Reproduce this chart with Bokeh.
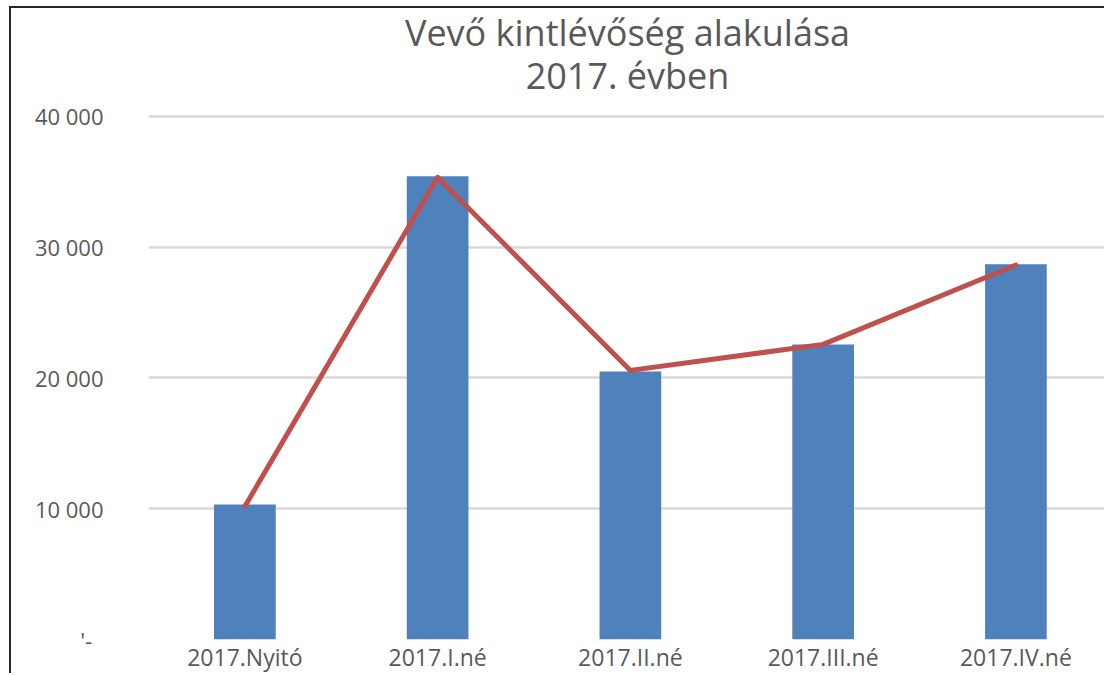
from bokeh.plotting import figure
from bokeh.models import Range1d, FixedTicker, Title, ColumnDataSource
from bokeh.embed import file_html
from bokeh.resources import INLINE

categories = ["2017.Nyitó", "2017.I.né", "2017.II.né", "2017.III.né", "2017.IV.né"]
bar_values = [10330, 35420, 20500, 22570, 28690]
line_values = [10180, 35350, 20580, 22570, 28640]
y_ticks = [0, 10000, 20000, 30000, 40000]
y_tick_labels = ["'-\u00a0\u00a0", "10 000", "20 000", "30 000", "40 000"]
title_lines = ["Vevő kintlévőség alakulása", "2017. évben"]

FONT = "Open Sans"
TXT = "#595959"

xs = list(range(len(categories)))
src = ColumnDataSource(dict(x=xs, bar=bar_values, line=line_values))

p = figure(width=1095, height=667, output_backend="svg", toolbar_location=None,
           x_range=Range1d(-0.5, 4.47), y_range=Range1d(0, 40150),
           min_border_left=137, min_border_right=0, min_border_top=0, min_border_bottom=0)
p.margin = (6, 0, 0, 9)
p.styles = {"border-top": "2px solid #262626", "border-left": "2px solid #262626"}
p.outline_line_color = None
p.background_fill_color = "white"
p.border_fill_color = "white"

# spacer between plot area and the title lines
p.add_layout(Title(text=" ", text_font=FONT, text_font_size="14px", standoff=0), "above")
p.add_layout(Title(text=title_lines[1], align="center", text_font=FONT, text_font_size="36px",
                   text_color=TXT, text_font_style="normal", standoff=-12, offset=0), "above")
p.add_layout(Title(text=title_lines[0], align="center", text_font=FONT, text_font_size="36px",
                   text_color=TXT, text_font_style="normal", standoff=-5, offset=0), "above")

p.vbar(x="x", top="bar", width=0.32, bottom=0, source=src, color="#4f81bd", line_color=None)
p.line(x="x", y="line", source=src, line_color="#c0504d", line_width=5, line_cap="round", line_join="round")

p.yaxis.ticker = FixedTicker(ticks=y_ticks)
p.yaxis.major_label_overrides = {t: l for t, l in zip(y_ticks, y_tick_labels)}
p.xaxis.ticker = FixedTicker(ticks=xs)
p.xaxis.major_label_overrides = {i: c for i, c in zip(xs, categories)}

for ax in (p.xaxis, p.yaxis):
    ax.axis_line_color = None
    ax.major_tick_line_color = None
    ax.minor_tick_line_color = None
    ax.major_tick_in = 0
    ax.major_tick_out = 0
    ax.major_label_text_font = FONT
    ax.major_label_text_color = TXT
    ax.major_label_text_font_size = "22px"
p.xaxis.major_label_text_font_size = "23px"
p.yaxis.major_label_standoff = 45
p.xaxis.major_label_standoff = 1

p.xgrid.grid_line_color = None
p.ygrid.grid_line_color = "#d9d9d9"
p.ygrid.grid_line_width = 2.5
p.ygrid.ticker = FixedTicker(ticks=y_ticks)

open("out.html", "w").write(file_html(p, INLINE))
